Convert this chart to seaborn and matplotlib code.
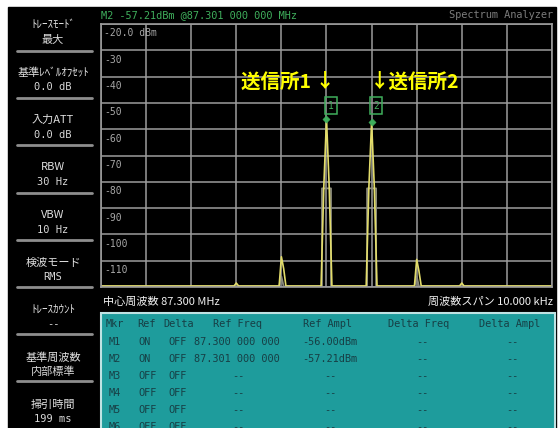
import seaborn as sns
import matplotlib.pyplot as plt
from matplotlib.patches import Rectangle

# ---- trace data (frequency in MHz, level in dBm) ----
freq_yellow = [87.2950, 87.29795, 87.2980, 87.29805, 87.29895, 87.2990, 87.29905, 87.2991,
               87.29988, 87.29994, 87.3000, 87.30006, 87.30012,
               87.30088, 87.30094, 87.3010, 87.30106, 87.30112,
               87.30195, 87.3020, 87.30205, 87.3021, 87.30295, 87.3030, 87.30305, 87.3050]
level_yellow = [-119.6, -119.6, -118.5, -119.6, -119.6, -108.5, -113.0, -119.6,
                -119.6, -82.0, -56.0, -82.0, -119.6,
                -119.6, -82.0, -57.2, -82.0, -119.6,
                -119.6, -109.5, -114.0, -119.6, -119.6, -118.5, -119.6, -119.6]
freq_gray = [87.2950, 87.29895, 87.2990, 87.29905, 87.2999, 87.2999, 87.3001, 87.3001,
             87.3009, 87.3009, 87.3011, 87.3011, 87.30195, 87.3020, 87.30205, 87.3050]
level_gray = [-119.8, -119.8, -116.0, -119.8, -119.8, -82.5, -82.5, -119.8,
              -119.8, -82.5, -82.5, -119.8, -119.8, -116.0, -119.8, -119.8]

marker_id = ["1", "2"]
marker_freq = [87.300, 87.301]
marker_level = [-56.00, -57.21]

y_grid = [-20, -30, -40, -50, -60, -70, -80, -90, -100, -110, -120]
y_labels = ["-20.0 dBm", "-30", "-40", "-50", "-60", "-70", "-80", "-90", "-100", "-110"]
x_grid = [87.295, 87.296, 87.297, 87.298, 87.299, 87.300, 87.301, 87.302, 87.303, 87.304, 87.305]

menu_titles = ["ﾄﾚｰｽﾓｰﾄﾞ", "基準ﾚﾍﾞﾙｵﾌｾｯﾄ", "入力ATT", "RBW", "VBW", "検波モード",
               "ﾄﾚｰｽｶｳﾝﾄ", "基準周波数", "掃引時間"]
menu_values = ["最大", "0.0 dB", "0.0 dB", "30 Hz", "10 Hz", "RMS", "--", "内部標準", "199 ms"]

table_header = ["Mkr", "Ref", "Delta", "Ref Freq", "Ref Ampl", "Delta Freq", "Delta Ampl"]
mkr_name = ["M1", "M2", "M3", "M4", "M5", "M6"]
mkr_ref = ["ON", "ON", "OFF", "OFF", "OFF", "OFF"]
mkr_delta = ["OFF", "OFF", "OFF", "OFF", "OFF", "OFF"]
mkr_freq = ["87.300 000 000", "87.301 000 000", "--", "--", "--", "--"]
mkr_ampl = ["-56.00dBm", "-57.21dBm", "--", "--", "--", "--"]
mkr_dfreq = ["--", "--", "--", "--", "--", "--"]
mkr_dampl = ["--", "--", "--", "--", "--", "--"]

JP = ["Noto Sans CJK JP", "DejaVu Sans"]
MONO = ["DejaVu Sans Mono", "Noto Sans CJK JP"]
GREEN = "#3fae5c"
GRID = "#9c9c9c"

sns.set_theme(style="white")
plt.rcParams["font.family"] = JP

fig = plt.figure(figsize=(5.58, 4.28), dpi=100, facecolor="white")

# background canvas in pixel coordinates
bg = fig.add_axes([0, 0, 1, 1])
bg.set_xlim(0, 558)
bg.set_ylim(428, 0)
bg.axis("off")
bg.add_patch(Rectangle((8, 7), 548, 421, color="black"))

# left menu
for i, (t, v) in enumerate(zip(menu_titles, menu_values)):
	ty = 25 + 47.5 * i
	bg.text(53, ty, t, color="#e0e0e0", fontsize=8, ha="center", va="center", family=JP)
	vfam = JP if any(ord(c) > 0x2000 for c in v) else MONO
	bg.text(53, ty + 14.5, v, color="#d8d8d8", fontsize=7.5 if vfam is MONO else 8,
	        ha="center", va="center", family=vfam)
	if i < len(menu_titles) - 1:
		sy = 51 + 47.2 * i
		bg.plot([17, 92], [sy, sy], color="#8e8e8e", lw=2)

# header line
bg.text(101, 15, "M2 -57.21dBm @87.301 000 000 MHz", color=GREEN, fontsize=7.4,
        ha="left", va="center", family=MONO)
bg.text(553, 15, "Spectrum Analyzer", color="#7c7c7c", fontsize=7.4,
        ha="right", va="center", family=MONO)

# info bar
bg.text(103, 302, "中心周波数 87.300 MHz", color="#f0f0f0", fontsize=8,
        ha="left", va="center", family=JP)
bg.text(553, 302, "周波数スパン 10.000 kHz", color="#f0f0f0", fontsize=8,
        ha="right", va="center", family=JP)

# marker table (last row is cut by the screen edge, as in the original)
bg.add_patch(Rectangle((101, 313), 454, 118, facecolor="#1e9c9c", edgecolor="#bfe3e3", lw=1.5))
TXT = "#173f45"
head_x = [106, 137, 163, 213, 303, 388, 479]
for hx, h in zip(head_x, table_header):
	bg.text(hx, 324, h, color=TXT, fontsize=7.4, ha="left", va="center", family=MONO)
cols = [(mkr_name, 109, 109), (mkr_ref, 138, 150), (mkr_delta, 168, 178),
        (mkr_freq, 194, 238), (mkr_ampl, 302, 330), (mkr_dfreq, 422, 422), (mkr_dampl, 512, 512)]
for r in range(len(mkr_name)):
	ry = 342 + 17 * r
	for vals, lx, cx in cols:
		s = vals[r]
		if s == "--":
			bg.text(cx, ry, s, color=TXT, fontsize=7.4, ha="center", va="center", family=MONO)
		else:
			bg.text(lx, ry, s, color=TXT, fontsize=7.4, ha="left", va="center", family=MONO)

# spectrum plot
ax = fig.add_axes([101 / 558, 1 - 287 / 428, 451 / 558, 263 / 428])
ax.set_facecolor("black")
sns.lineplot(x=freq_gray, y=level_gray, color="#8a8a7c", lw=1.3, estimator=None, sort=False, ax=ax)
sns.lineplot(x=freq_yellow, y=level_yellow, color="#e2dc6a", lw=1.2, estimator=None, sort=False, ax=ax)
sns.scatterplot(x=marker_freq, y=marker_level, marker="D", s=14, color=GREEN, edgecolor=GREEN, ax=ax, zorder=5)

ax.set_xlim(87.295, 87.305)
ax.set_ylim(-120, -20)
ax.set_xticks(x_grid)
ax.set_yticks(y_grid)
ax.set_xticklabels([])
ax.set_yticklabels([])
ax.tick_params(length=0)
ax.grid(True, color=GRID, lw=1.1)
ax.set_axisbelow(True)
for sp in ax.spines.values():
	sp.set_color(GRID)
	sp.set_linewidth(1.2)
ax.set_xlabel("")
ax.set_ylabel("")

for yv, lab in zip(y_grid, y_labels):
	ax.text(87.29507, yv - 3.6, lab, color="#a8a8a8", fontsize=7, ha="left", va="center", family=MONO)

for mid, mf, ml in zip(marker_id, marker_freq, marker_level):
	ax.text(mf + 0.0001, -51.0, mid, color=GREEN, fontsize=7, ha="center", va="center", family=MONO,
	        bbox=dict(boxstyle="square,pad=0.35", fc="none", ec=GREEN, lw=1.1))

ax.text(87.30019, -42.0, "送信所1 ↓", color="#ffff00", fontsize=14, fontweight="bold",
        ha="right", va="center", family=JP)
ax.text(87.30096, -42.0, "↓送信所2", color="#ffff00", fontsize=14, fontweight="bold",
        ha="left", va="center", family=JP)

fig.savefig("out.png", dpi=100, facecolor="white")
